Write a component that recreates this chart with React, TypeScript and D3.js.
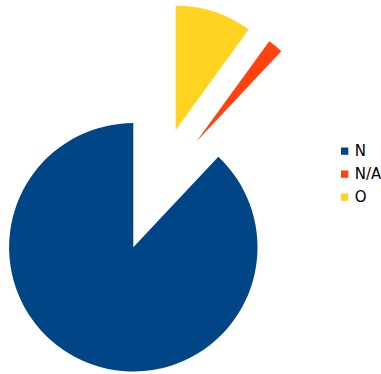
import React from "react";
import * as d3 from "d3";

const categories = ["N", "N/A", "O"];
const values = [88, 2, 10];

const colors: Record<string, string> = { N: "#004586", "N/A": "#ff420e", O: "#ffd320" };
// explode offsets (px) per slice, style only
const explode: Record<string, [number, number]> = { N: [0, 0], "N/A": [63, -105.5], O: [42.4, -117.3] };

export default function App() {
  const W = 381, H = 374;
  const cx = 133.3, cy = 247.3, r = 124.2;
  const data = categories.map((c, i) => ({ c, v: values[i] }));
  const pie = d3.pie<{ c: string; v: number }>().value(d => d.v).sort(null).startAngle(0).endAngle(-2 * Math.PI);
  const arcs = pie(data);
  const arc = d3.arc<d3.PieArcDatum<{ c: string; v: number }>>().innerRadius(0).outerRadius(r);
  const legendY = d3.scalePoint<string>().domain(categories).range([151, 197]);
  return (
    <svg width={W} height={H} style={{ position: "absolute", left: 0, top: 0 }}>
      <rect width={W} height={H} fill="#fff" />
      <g transform={`translate(${cx},${cy})`}>
        {arcs.map(a => (
          <path key={a.data.c} d={arc(a) || ""} fill={colors[a.data.c]}
            transform={`translate(${explode[a.data.c][0]},${explode[a.data.c][1]})`} />
        ))}
      </g>
      <g fontFamily="DejaVu Sans" fontSize={15} fill="#000">
        {categories.map(c => (
          <g key={c} transform={`translate(341,${legendY(c)})`}>
            <rect x={0} y={-3.5} width={7.3} height={7.3} fill={colors[c]} />
            <text x={13.8} y={4.6}>{c}</text>
          </g>
        ))}
      </g>
    </svg>
  );
}
